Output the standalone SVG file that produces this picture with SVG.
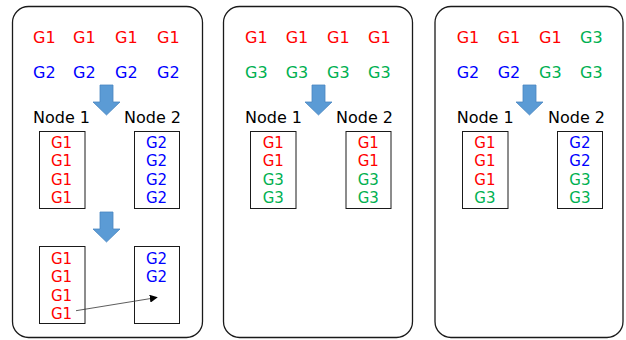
<svg xmlns="http://www.w3.org/2000/svg" width="626" height="340" viewBox="0 0 626 340">
<defs>
<style>
.panel{fill:#fff;stroke:#1a1a1a;stroke-width:1.3}
.box{fill:#fff;stroke:#1a1a1a;stroke-width:1}
.t{font-family:"DejaVu Sans",Verdana,sans-serif;font-size:16px}
.s{font-family:"DejaVu Sans",Verdana,sans-serif;font-size:15px}
.r{fill:#ff0000}.b{fill:#0000ff}.g{fill:#00b050}.k{fill:#000}
.arr{fill:#5b9bd5;stroke:#4a86c0;stroke-width:0.8}
</style>
<path id="bigarrow" d="M -6.5 0 H 6.5 V 17 H 13.5 L 0 30 L -13.5 17 H -6.5 Z"/>
<marker id="ah" viewBox="0 0 10 10" refX="9" refY="5" markerWidth="8" markerHeight="8" markerUnits="userSpaceOnUse" orient="auto">
<path d="M0 0 L10 5 L0 10 Z" fill="#000"/>
</marker>
</defs>
<rect width="626" height="340" fill="#fff"/>

<g id="panel1">
<rect class="panel" x="12.5" y="6.5" width="190" height="331" rx="16"/>
<g class="t r"><text x="33" y="43">G1</text><text x="73" y="43">G1</text><text x="115" y="43">G1</text><text x="157" y="43">G1</text></g>
<g class="t b"><text x="33" y="77.5">G2</text><text x="73" y="77.5">G2</text><text x="115" y="77.5">G2</text><text x="157" y="77.5">G2</text></g>
<use href="#bigarrow" class="arr" transform="translate(106.5,85)"/>
<text class="t k" x="33" y="122.5">Node 1</text>
<text class="t k" x="124" y="122.5">Node 2</text>
</g>
<g id="p1-node1">
<rect class="box" x="39.5" y="131.5" width="45.5" height="77"/>
<g class="s r"><text x="51" y="147.5">G1</text><text x="51" y="166">G1</text><text x="51" y="184.5">G1</text><text x="51" y="203">G1</text></g>
</g>
<g id="p1-node2">
<rect class="box" x="134.5" y="131.5" width="45" height="77"/>
<g class="s b"><text x="146" y="147.5">G2</text><text x="146" y="166">G2</text><text x="146" y="184.5">G2</text><text x="146" y="203">G2</text></g>
</g>
<use href="#bigarrow" class="arr" transform="translate(106.5,212)"/>
<g id="p1-node1b">
<rect class="box" x="39.5" y="246.5" width="45.5" height="77"/>
<g class="s r"><text x="51" y="263.5">G1</text><text x="51" y="282">G1</text><text x="51" y="300.5">G1</text><text x="51" y="319">G1</text></g>
</g>
<g id="p1-node2b">
<rect class="box" x="134.5" y="246.5" width="45" height="77"/>
<g class="s b"><text x="146" y="263.5">G2</text><text x="146" y="282">G2</text></g>
</g>

<g id="panel2">
<rect class="panel" x="223.5" y="6.5" width="189" height="331" rx="16"/>
<g class="t r"><text x="245" y="43">G1</text><text x="285.7" y="43">G1</text><text x="327" y="43">G1</text><text x="368" y="43">G1</text></g>
<g class="t g"><text x="245" y="77.5">G3</text><text x="285.7" y="77.5">G3</text><text x="327" y="77.5">G3</text><text x="368" y="77.5">G3</text></g>
<use href="#bigarrow" class="arr" transform="translate(318.5,85)"/>
<text class="t k" x="245" y="122.5">Node 1</text>
<text class="t k" x="336" y="122.5">Node 2</text>
</g>
<g id="p2-node1">
<rect class="box" x="250.5" y="131.5" width="45.5" height="77"/>
<g class="s"><text class="r" x="262.7" y="147.5">G1</text><text class="r" x="262.7" y="166">G1</text><text class="g" x="262.7" y="184.5">G3</text><text class="g" x="262.7" y="203">G3</text></g>
</g>
<g id="p2-node2">
<rect class="box" x="346" y="131.5" width="45" height="77"/>
<g class="s"><text class="r" x="357.7" y="147.5">G1</text><text class="r" x="357.7" y="166">G1</text><text class="g" x="357.7" y="184.5">G3</text><text class="g" x="357.7" y="203">G3</text></g>
</g>

<g id="panel3">
<rect class="panel" x="435" y="6.5" width="188" height="331" rx="16"/>
<g class="t"><text class="r" x="456.7" y="43">G1</text><text class="r" x="497.7" y="43">G1</text><text class="r" x="539" y="43">G1</text><text class="g" x="580" y="43">G3</text></g>
<g class="t"><text class="b" x="456.7" y="77.5">G2</text><text class="b" x="497.7" y="77.5">G2</text><text class="g" x="539" y="77.5">G3</text><text class="g" x="580" y="77.5">G3</text></g>
<use href="#bigarrow" class="arr" transform="translate(529.5,85)"/>
<text class="t k" x="456.7" y="122.5">Node 1</text>
<text class="t k" x="548" y="122.5">Node 2</text>
</g>
<g id="p3-node1">
<rect class="box" x="462.5" y="131.5" width="45.5" height="77"/>
<g class="s"><text class="r" x="474.3" y="147.5">G1</text><text class="r" x="474.3" y="166">G1</text><text class="r" x="474.3" y="184.5">G1</text><text class="g" x="474.3" y="203">G3</text></g>
</g>
<g id="p3-node2">
<rect class="box" x="557.5" y="131.5" width="45" height="77"/>
<g class="s"><text class="b" x="569.3" y="147.5">G2</text><text class="b" x="569.3" y="166">G2</text><text class="g" x="569.3" y="184.5">G3</text><text class="g" x="569.3" y="203">G3</text></g>
</g>

<g id="connectors">
<line x1="76" y1="310.7" x2="157" y2="297.5" stroke="#333" stroke-width="0.8" marker-end="url(#ah)"/>
</g>
</svg>
